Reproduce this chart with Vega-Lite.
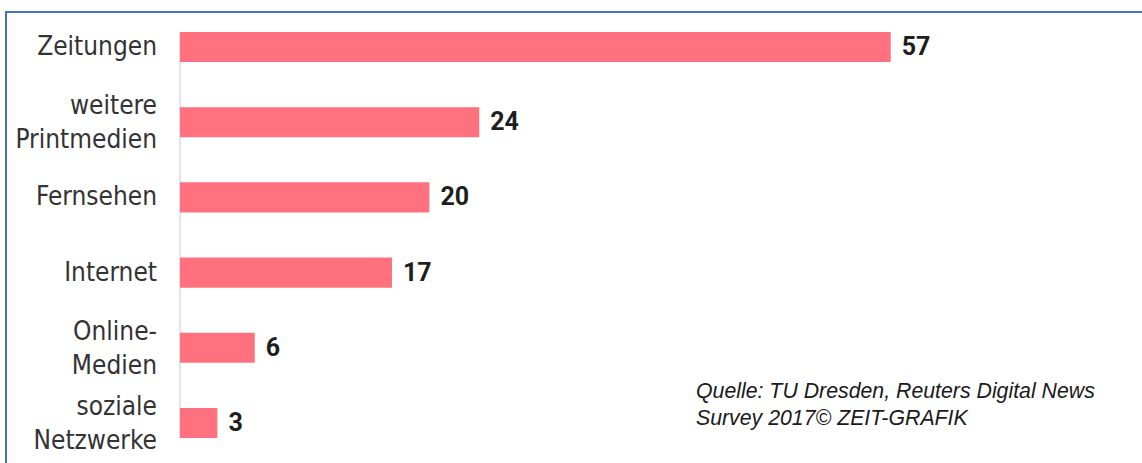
{
  "$schema": "https://vega.github.io/schema/vega-lite/v6.json",
  "width": 1140,
  "height": 460,
  "autosize": {"type": "none"},
  "padding": {"left": 6, "top": 12, "right": 0, "bottom": 0},
  "background": "white",
  "config": {"view": {"stroke": "#4472c4", "strokeWidth": 2}},
  "data": {
    "values": [
      {"cat": "Zeitungen", "value": 57},
      {"cat": "weitere\nPrintmedien", "value": 24},
      {"cat": "Fernsehen", "value": 20},
      {"cat": "Internet", "value": 17},
      {"cat": "Online-\nMedien", "value": 6},
      {"cat": "soziale\nNetzwerke", "value": 3}
    ]
  },
  "encoding": {
    "y": {
      "field": "cat",
      "type": "nominal",
      "sort": null,
      "axis": null,
      "scale": {
        "domain": ["Zeitungen", "weitere\nPrintmedien", "Fernsehen", "Internet", "Online-\nMedien", "soziale\nNetzwerke"],
        "paddingInner": 0.6,
        "paddingOuter": 0.265,
        "range": [0, 446]
      }
    }
  },
  "layer": [
    {
      "mark": {"type": "rule", "color": "#e4e4e4", "strokeWidth": 1.5},
      "encoding": {
        "x": {"datum": 0, "type": "quantitative", "scale": {"domain": [-13.953, 77.47], "nice": false, "zero": false}, "axis": null},
        "y": {"datum": "Zeitungen", "type": "nominal", "bandPosition": 0},
        "y2": {"datum": "soziale\nNetzwerke", "bandPosition": 1}
      }
    },
    {
      "mark": {"type": "bar", "color": "#ff717e"},
      "encoding": {
        "x": {"field": "value", "type": "quantitative"},
        "x2": {"datum": 0}
      }
    },
    {
      "mark": {"type": "text", "align": "left", "baseline": "middle", "dx": 11, "font": "Roboto", "fontWeight": "bold", "fontSize": 25, "color": "#1e1e1e"},
      "encoding": {
        "x": {"field": "value", "type": "quantitative"},
        "text": {"field": "value", "type": "quantitative"}
      }
    },
    {
      "transform": [{"filter": "indexof(datum.cat, '\\n') < 0"}],
      "mark": {"type": "text", "align": "right", "baseline": "middle", "dx": -23, "font": "DejaVu Sans Condensed", "fontSize": 26, "color": "#333333"},
      "encoding": {
        "x": {"datum": 0, "type": "quantitative"},
        "text": {"field": "cat", "type": "nominal"}
      }
    },
    {
      "transform": [{"filter": "indexof(datum.cat, '\\n') >= 0"}],
      "mark": {"type": "text", "align": "right", "baseline": "middle", "dx": -23, "dy": -16, "font": "DejaVu Sans Condensed", "fontSize": 26, "lineHeight": 34, "lineBreak": "\n", "color": "#333333"},
      "encoding": {
        "x": {"datum": 0, "type": "quantitative"},
        "text": {"field": "cat", "type": "nominal"}
      }
    },
    {
      "data": {"values": [{"src": "Quelle: TU Dresden, Reuters Digital News\nSurvey 2017© ZEIT-GRAFIK"}]},
      "mark": {"type": "text", "align": "left", "baseline": "middle", "dy": -31, "font": "Liberation Sans, Arial", "fontStyle": "italic", "fontSize": 21.3, "lineHeight": 27, "lineBreak": "\n", "color": "#1a1a1a"},
      "encoding": {
        "x": {"datum": 41.38, "type": "quantitative"},
        "y": {"datum": "soziale\nNetzwerke", "type": "nominal"},
        "text": {"field": "src", "type": "nominal"}
      }
    }
  ]
}
